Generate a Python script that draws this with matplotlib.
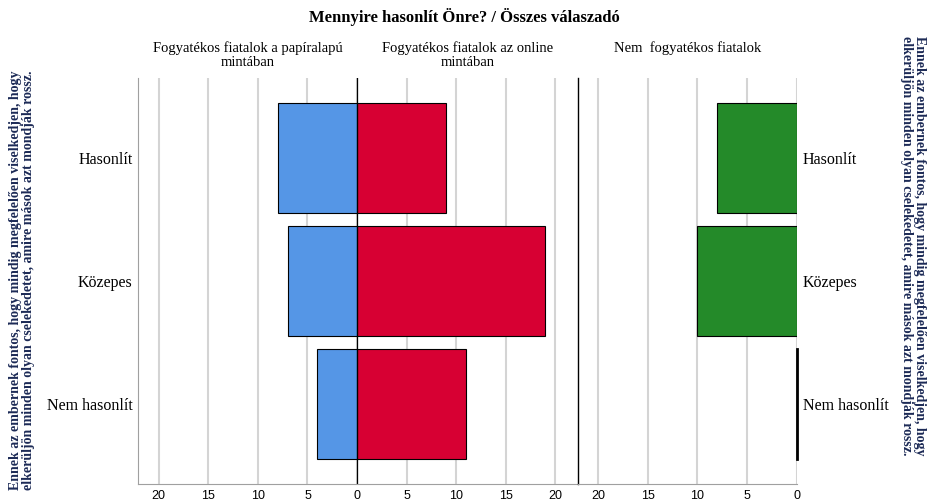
import numpy as np
import matplotlib
matplotlib.use("Agg")
import matplotlib.pyplot as plt

# data
categories = ["Hasonlít", "Közepes", "Nem hasonlít"]
paper_vals = [8, 7, 4]      # Fogyatékos fiatalok a papíralapú mintában
online_vals = [9, 19, 11]   # Fogyatékos fiatalok az online mintában
nondis_vals = [8, 10, 0]    # Nem fogyatékos fiatalok
ticks_left = [-20, -15, -10, -5, 0, 5, 10, 15, 20]
ticks_right = [20, 15, 10, 5, 0]

title = "Mennyire hasonlít Önre? / Összes válaszadó"
panel_titles = ["Fogyatékos fiatalok a papíralapú\nmintában",
                "Fogyatékos fiatalok az online\nmintában",
                "Nem  fogyatékos fiatalok"]
side_text = ("Ennek az embernek fontos, hogy mindig megfelelően viselkedjen, hogy\n"
             "elkerüljön minden olyan cselekedetet, amire mások azt mondják rossz.")

serif = ["Liberation Serif", "DejaVu Serif"]
sans = ["Liberation Sans", "DejaVu Sans"]
grid_c = "#d4d4d4"
c_blue, c_red, c_green = "#5596e6", "#d70033", "#248a29"
navy = "#1c2a56"

fig = plt.figure(figsize=(9.28, 5.04), dpi=100)
ax1 = fig.add_axes([138 / 928, 20 / 504, 440 / 928, 406 / 504])
ax2 = fig.add_axes([578 / 928, 20 / 504, 219 / 928, 406 / 504])

y = np.arange(len(categories))
h = 0.9

for ax in (ax1, ax2):
    ax.set_axisbelow(True)
    ax.set_ylim(2.65, -0.65)
    ax.xaxis.grid(True, color=grid_c, linewidth=1.5)
    ax.tick_params(axis="both", length=0, pad=4)
    for s in ax.spines.values():
        s.set_visible(False)
    ax.spines["bottom"].set_visible(True)
    ax.spines["bottom"].set_color("#a0a0a0")

# left panel: paper (negative side) and online
ax1.barh(y, [-v for v in paper_vals], height=h, color=c_blue, edgecolor="black", linewidth=0.8)
ax1.barh(y, online_vals, height=h, color=c_red, edgecolor="black", linewidth=0.8)
ax1.set_xlim(-22.1, 22.3)
ax1.set_xticks(ticks_left)
ax1.set_xticklabels([str(abs(t)) for t in ticks_left], family=sans, fontsize=9)
ax1.axvline(0, color="black", linewidth=0.9)
ax1.spines["left"].set_visible(True)
ax1.spines["left"].set_color("#a0a0a0")
ax1.set_yticks(y)
ax1.set_yticklabels(categories, family=serif, fontsize=11.5)

# right panel: non-disabled youth, axis reversed
ax2.barh(y, nondis_vals, height=h, color=c_green, edgecolor="black", linewidth=0.8)
for yi, v in zip(y, nondis_vals):
    if v == 0:
        ax2.plot([v, v], [yi - h / 2, yi + h / 2], color="black", linewidth=2, clip_on=False)
ax2.set_xlim(22.0, 0)
ax2.set_xticks(ticks_right)
ax2.set_xticklabels([str(t) for t in ticks_right], family=sans, fontsize=9)
ax2.spines["left"].set_visible(True)
ax2.spines["left"].set_color("black")
ax2.spines["left"].set_linewidth(1.0)
ax2.set_yticks(y)
ax2.yaxis.tick_right()
ax2.set_yticklabels(categories, family=serif, fontsize=11.5)

# titles
fig.text(0.5, 1 - 17 / 504, title, ha="center", va="center", family=serif,
         fontsize=12, fontweight="bold")
for xc, t in zip([247.5, 467.5, 687.5], panel_titles):
    fig.text(xc / 928, 1 - 41 / 504, t, ha="center", va="top", family=serif,
             fontsize=10.5, linespacing=1.1)

# rotated side labels
fig.text(22 / 928, 1 - 280 / 504, side_text, rotation=90, ha="center", va="center",
         family=serif, fontsize=10, fontweight="bold", color=navy, linespacing=1.05)
fig.text(913 / 928, 1 - 246 / 504, side_text, rotation=270, ha="center", va="center",
         family=serif, fontsize=10, fontweight="bold", color=navy, linespacing=1.05)

fig.savefig("out.png", dpi=100)
